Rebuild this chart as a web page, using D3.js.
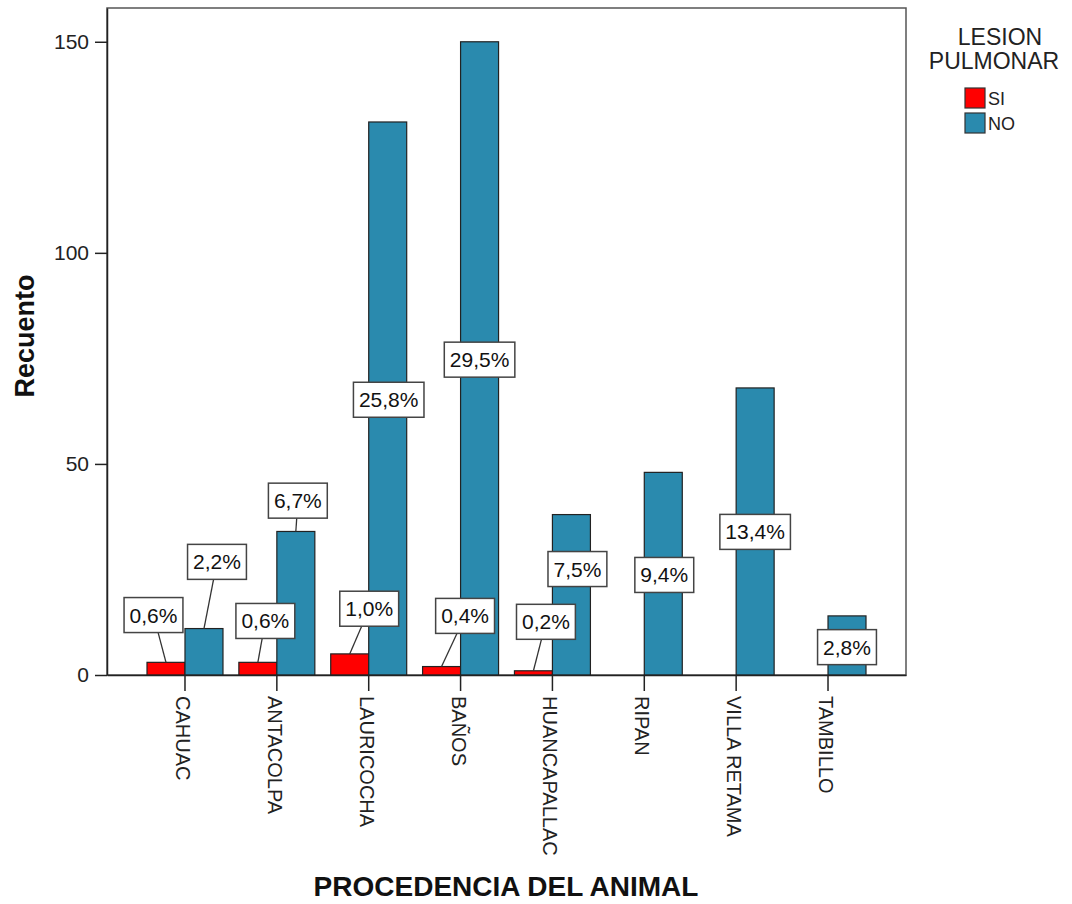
<!DOCTYPE html>
<html>
<head>
<meta charset="utf-8">
<script src="https://cdn.jsdelivr.net/npm/d3@7"></script>
<style>
  html, body { margin: 0; padding: 0; background: #fff; }
  svg { display: block; font-family: "Liberation Sans", Arial, sans-serif; }
</style>
</head>
<body>
<svg id="chart" width="1072" height="904"></svg>
<script>
// Procedencia del animal vs. lesión pulmonar (recuento)
const categories = ["CAHUAC", "ANTACOLPA", "LAURICOCHA", "BAÑOS", "HUANCAPALLAC", "RIPAN", "VILLA RETAMA", "TAMBILLO"];
const series = ["SI", "NO"];
const siValues = [3, 3, 5, 2, 1, null, null, null];
const noValues = [11, 34, 131, 150, 38, 48, 68, 14];
const yTicks = [0, 50, 100, 150];

// where each percentage box sits: height in count units, horizontal nudge in px
const siLabelAt = [14.2, 12.8, 15.7, 14.0, 12.6, null, null, null];
const siLabelDx = [-12.5, 7.5, 19.5, 23.5, 12.5, 0, 0, 0];
const noLabelAt = [26.8, 41.3, 65.2, 74.7, 25.1, 23.7, 33.9, 6.6];
const noLabelDx = [13, 2, 1, 0, 6, 1, 0, 0];

const colors = { SI: "#ff0000", NO: "#2a8aae" };

const svg = d3.select("#chart");
const plot = { left: 107, right: 906, top: 8, bottom: 675 };

const x = d3.scaleBand().domain(categories).range([plot.left, plot.right])
  .paddingInner(0).paddingOuter(0.349);
const xs = d3.scaleBand().domain(series).range([0, x.bandwidth()])
  .paddingInner(0).paddingOuter(0.209);
const y = d3.scaleLinear().domain([0, 158]).range([plot.bottom, plot.top]);

const total = d3.sum(siValues) + d3.sum(noValues);
const pct = v => (v / total * 100).toFixed(1).replace(".", ",") + "%";

// frame
svg.append("rect")
  .attr("x", plot.left).attr("y", plot.top)
  .attr("width", plot.right - plot.left).attr("height", plot.bottom - plot.top)
  .attr("fill", "none").attr("stroke", "#555").attr("stroke-width", 1.5);

// bars
const rows = [];
categories.forEach((c, i) => {
  rows.push({ cat: c, s: "SI", v: siValues[i], at: siLabelAt[i], dx: siLabelDx[i] });
  rows.push({ cat: c, s: "NO", v: noValues[i], at: noLabelAt[i], dx: noLabelDx[i] });
});
const bars = rows.filter(d => d.v != null && d.v > 0);

svg.append("g").selectAll("rect").data(bars).join("rect")
  .attr("x", d => x(d.cat) + xs(d.s))
  .attr("y", d => y(d.v))
  .attr("width", xs.bandwidth())
  .attr("height", d => y(0) - y(d.v))
  .attr("fill", d => colors[d.s])
  .attr("stroke", "#222").attr("stroke-width", 1.2);

// y axis
const yAxis = d3.axisLeft(y).tickValues(yTicks).tickSize(12).tickSizeOuter(0)
  .tickPadding(6).tickFormat(d3.format("d"));
const gy = svg.append("g").attr("transform", `translate(${plot.left},0)`).call(yAxis);
gy.select(".domain").attr("stroke", "#222").attr("stroke-width", 1.5);
gy.selectAll(".tick line").attr("stroke", "#222").attr("stroke-width", 1.5);
gy.selectAll(".tick text").attr("font-size", 21).attr("fill", "#222")
  .attr("font-family", "'Liberation Sans', Arial, sans-serif");

// x axis
const xAxis = d3.axisBottom(x).tickSize(16).tickSizeOuter(0);
const gx = svg.append("g").attr("transform", `translate(0,${plot.bottom})`).call(xAxis);
gx.select(".domain").attr("stroke", "#222").attr("stroke-width", 1.5);
gx.selectAll(".tick line").attr("stroke", "#222").attr("stroke-width", 1.5);
gx.selectAll(".tick text")
  .attr("font-size", 20).attr("fill", "#222")
  .attr("font-family", "'Liberation Sans', Arial, sans-serif")
  .attr("text-anchor", "start")
  .attr("dy", null)
  .attr("transform", "translate(-9,21) rotate(90)")
  .attr("x", 0).attr("y", 0);

// percentage boxes with leader lines
const labels = rows.filter(d => d.v != null && d.v > 0 && d.at != null);
const lg = svg.append("g");
labels.forEach(d => {
  const cx = x(d.cat) + xs(d.s) + xs.bandwidth() / 2 + d.dx;
  const cy = y(d.at);
  const txt = lg.append("text")
    .attr("x", cx).attr("y", cy)
    .attr("text-anchor", "middle").attr("dominant-baseline", "central")
    .attr("font-size", 21).attr("fill", "#111")
    .text(pct(d.v));
  const w = txt.node().getComputedTextLength() + 11;
  const h = 35;
  const top = cy - h / 2, bottom = cy + h / 2;
  const barTop = y(d.v);
  if (bottom < barTop) {
    const ax = x(d.cat) + xs(d.s) + xs.bandwidth() / 2;
    const ay = barTop;
    // clip the leader at the bottom edge of the box
    const t = (bottom - ay) / (cy - ay);
    const lx = ax + (cx - ax) * t;
    lg.insert("line", "text")
      .attr("x1", ax).attr("y1", ay).attr("x2", lx).attr("y2", bottom)
      .attr("stroke", "#333").attr("stroke-width", 1.3);
  }
  lg.insert("rect", "text")
    .attr("x", cx - w / 2).attr("y", top).attr("width", w).attr("height", h)
    .attr("fill", "#fff").attr("stroke", "#444").attr("stroke-width", 1.5);
});

// axis titles
svg.append("text")
  .attr("transform", `translate(34,336) rotate(-90)`)
  .attr("text-anchor", "middle")
  .attr("font-size", 27).attr("font-weight", "bold").attr("fill", "#111")
  .text("Recuento");

svg.append("text")
  .attr("x", 506).attr("y", 896)
  .attr("text-anchor", "middle")
  .attr("font-size", 28).attr("font-weight", "bold").attr("fill", "#111")
  .text("PROCEDENCIA DEL ANIMAL");

// legend
const leg = svg.append("g");
leg.append("text").attr("x", 1000).attr("y", 45).attr("text-anchor", "middle")
  .attr("font-size", 23).attr("fill", "#222").text("LESION");
leg.append("text").attr("x", 994).attr("y", 69).attr("text-anchor", "middle")
  .attr("font-size", 23).attr("fill", "#222").text("PULMONAR");
series.forEach((s, i) => {
  const yy = 88 + i * 25;
  leg.append("rect").attr("x", 965).attr("y", yy).attr("width", 20).attr("height", 20)
    .attr("fill", colors[s]).attr("stroke", "#333").attr("stroke-width", 1.2);
  leg.append("text").attr("x", 988).attr("y", yy + 17)
    .attr("font-size", 18).attr("fill", "#222").text(s);
});
</script>
</body>
</html>
